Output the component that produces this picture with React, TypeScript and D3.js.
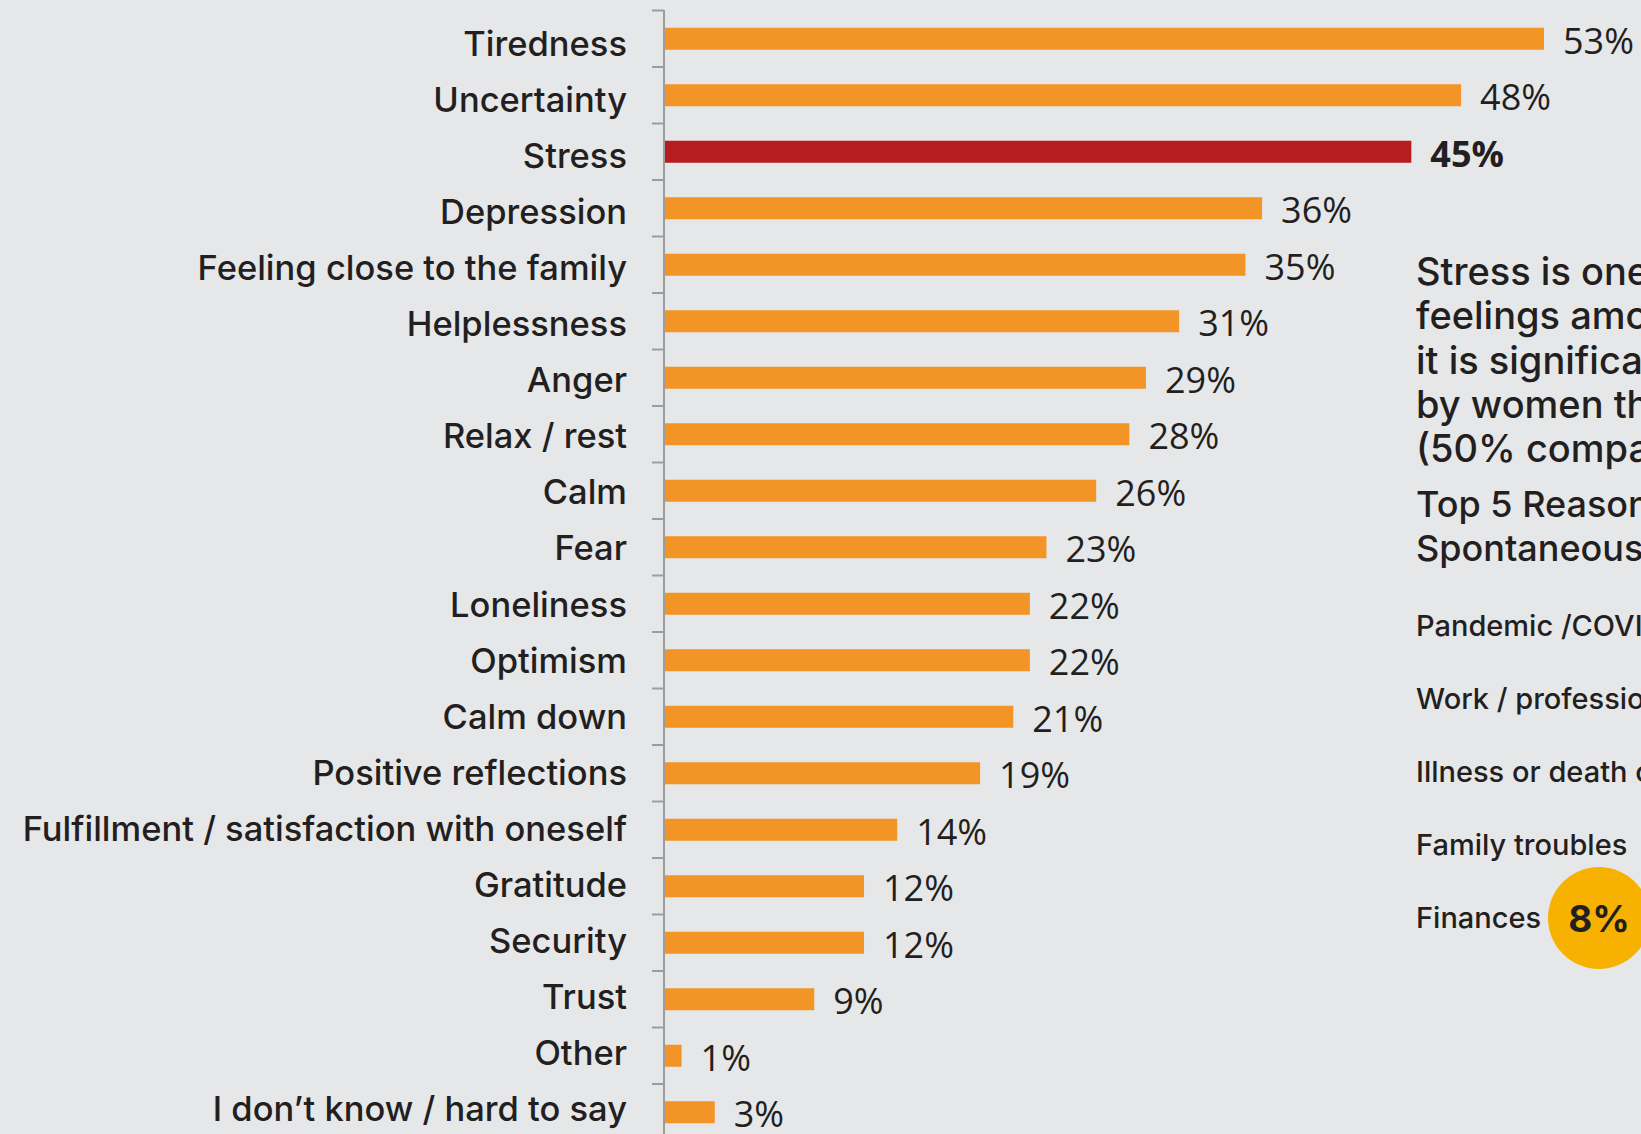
import React from 'react';
import * as d3 from 'd3';

const categories = [
  'Tiredness', 'Uncertainty', 'Stress', 'Depression', 'Feeling close to the family',
  'Helplessness', 'Anger', 'Relax / rest', 'Calm', 'Fear', 'Loneliness', 'Optimism',
  'Calm down', 'Positive reflections', 'Fulfillment / satisfaction with oneself',
  'Gratitude', 'Security', 'Trust', 'Other', 'I don\u2019t know / hard to say',
];
const values = [53, 48, 45, 36, 35, 31, 29, 28, 26, 23, 22, 22, 21, 19, 14, 12, 12, 9, 1, 3];
const highlight = 'Stress';

const noteLines = [
  'Stress is one of the most common',
  'feelings among respondents, and',
  'it is significantly more often felt',
  'by women than by men',
  '(50% compared to 39%)',
];
const reasonTitle = ['Top 5 Reasons for Stress', 'Spontaneous answers'];
const reasons = ['Pandemic /COVID-19', 'Work / professional matters', 'Illness or death of a loved one', 'Family troubles', 'Finances'];
const financesValue = '8%';

const W = 1641;
const H = 1134;
const LABEL_FONT = 'Inter, "Noto Sans", sans-serif';
const VALUE_FONT = '"Open Sans", "Noto Sans", sans-serif';
const TEXT = '#231f20';

export default function App() {
  const x = d3.scaleLinear().domain([0, 53]).range([665, 1544]);
  const y = d3.scaleBand<string>()
    .domain(categories)
    .range([10.5, 10.5 + categories.length * 56.5])
    .paddingInner(0.61)
    .paddingOuter(0.305);
  // category labels sit on a slightly tighter grid than the bars
  const labelY = d3.scalePoint<string>().domain(categories).range([56, 1121]);
  const bw = y.bandwidth();
  const gap = (y.step() - bw) / 2;
  const ticks = categories.map(c => (y(c) as number) - gap);
  ticks.push((y(categories[categories.length - 1]) as number) + bw + gap);

  return (
    <svg width={W} height={H} style={{ position: 'absolute', left: 0, top: 0 }}>
      <rect width={W} height={H} fill="#e6e7e9" />
      {categories.map((c, i) => {
        const cy = (y(c) as number) + bw / 2;
        const isHi = c === highlight;
        return (
          <g key={c}>
            <rect x={x(0)} y={y(c)} width={x(values[i]) - x(0)} height={bw}
              fill={isHi ? '#b71c1f' : '#f29526'} />
            <text x={627} y={labelY(c)} textAnchor="end" fontFamily={LABEL_FONT}
              fontSize={34.5} fontWeight={500} fill={TEXT}>{c}</text>
            <text x={x(values[i]) + 19} y={cy + 15} fontFamily={VALUE_FONT}
              fontSize={36} fontWeight={isHi ? 700 : 400} fill={TEXT}>{values[i]}%</text>
          </g>
        );
      })}
      <line x1={664} x2={664} y1={10} y2={H} stroke="#9c9c9c" strokeWidth={2} />
      {ticks.map((t, i) => (
        <line key={i} x1={652} x2={664} y1={t} y2={t} stroke="#9c9c9c" strokeWidth={2} />
      ))}

      <g fontFamily={LABEL_FONT} fill={TEXT}>
        {noteLines.map((l, i) => (
          <text key={l} x={1416} y={285 + i * 44.3} fontSize={38} fontWeight={500}>{l}</text>
        ))}
        {reasonTitle.map((l, i) => (
          <text key={l} x={1416} y={517 + i * 44} fontSize={36} fontWeight={500}>{l}</text>
        ))}
        {reasons.map((l, i) => (
          <text key={l} x={1416} y={636 + i * 73} fontSize={29} fontWeight={500}>{l}</text>
        ))}
        <circle cx={1599} cy={918} r={51} fill="#f7b100" />
        <text x={1599} y={932} textAnchor="middle" fontSize={37} fontWeight={700}>{financesValue}</text>
      </g>
    </svg>
  );
}
